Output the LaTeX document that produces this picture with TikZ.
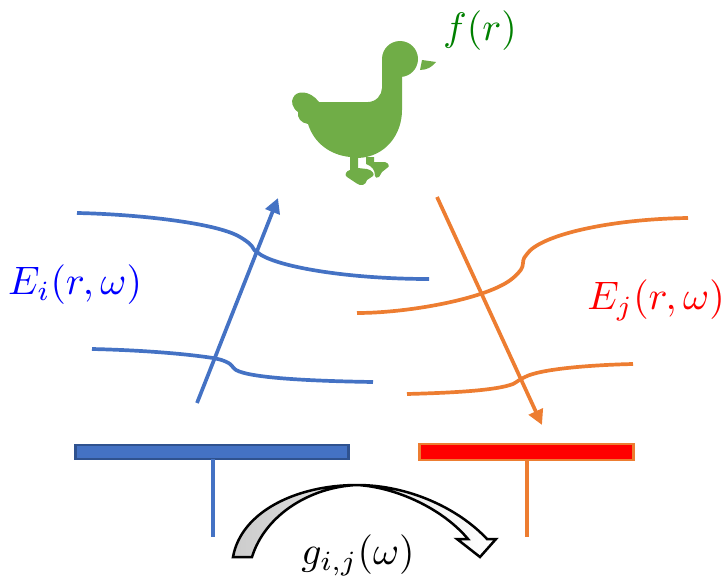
\documentclass[tikz,border=0pt]{standalone}
\usepackage{tikz}
\usetikzlibrary{positioning, arrows.meta}
\usepackage{xcolor}
\definecolor{fieldblue}{HTML}{4472C4}
\definecolor{fieldorange}{HTML}{ED7D31}
\definecolor{barblue}{HTML}{2F528F}
\definecolor{duckgreen}{HTML}{70AD47}
\definecolor{labelgreen}{HTML}{008000}

\begin{document}
\begin{tikzpicture}[
  x=1pt, y=-1pt,
  wave/.style={line width=3.7pt},
  ray/.style={line width=3.7pt, -{Triangle[length=15pt, width=15pt]}},
  stem/.style={line width=3.7pt},
  bar/.style={draw, line width=2.2pt, minimum height=14pt, inner sep=0pt, outer sep=0pt},
  lab/.style={scale=3.97, inner sep=0pt}
]
\useasboundingbox (0,0) rectangle (725,578);

% source
\fill[duckgreen] (400,41) arc[start angle=-90, end angle=90, radius=18] -- (402,77) -- (402,110)
  .. controls (402,135) and (385,157) .. (358,158) -- (358,168) -- (367,169)
  .. controls (372,170) and (375,174) .. (373,176) -- (367,180) .. controls (366,185) and (361,187) .. (356,183)
  -- (347,177) .. controls (344,175) and (346,171) .. (350,170) -- (350,157)
  .. controls (330,155) and (314,143) .. (308,124) .. controls (301,123) and (297,118) .. (298,112)
  .. controls (292,108) and (291,101) .. (293,98) .. controls (296,90) and (310,90) .. (319,102)
  -- (368,102) .. controls (376,102) and (382,95) .. (382,88) -- (382,59) arc[start angle=180, end angle=270, radius=18] -- cycle;
\fill[duckgreen] (366,157) -- (374,157) -- (374,162) -- (385,162) .. controls (389,163) and (390,167) .. (387,168)
  -- (382,172) -- (379,177) .. controls (377,178) and (375,178) .. (375,176) .. controls (375,170) and (372,166) .. (366,164) -- cycle;
\fill[duckgreen] (422,60) -- (436,62) .. controls (432,67) and (427,70) .. (420,70) -- cycle;
\node[lab, text=labelgreen] (source) at (480,31) {$f(r)$};

% fields
\coordinate (rayIstart) at (197,403);
\coordinate (rayIend) at (278,198);
\coordinate (rayJstart) at (437,197);
\coordinate (rayJend) at (542,425);
\draw[wave, fieldblue] (77,213) .. controls (130,214) and (215,222) .. (240,237)
  .. controls (250,243) and (252,246) .. (253,248) .. controls (254,250) and (255,251) .. (257,252)
  .. controls (272,266) and (345,279) .. (429,279);
\draw[wave, fieldblue] (92,349) .. controls (135,350) and (180,353) .. (213,358)
  .. controls (225,360) and (231,364) .. (232,366) .. controls (233,368) and (234,368) .. (236,370)
  .. controls (250,378) and (310,381) .. (373,382);
\draw[ray, fieldblue] (rayIstart) -- (rayIend);
\draw[wave, fieldorange] (357,313) .. controls (410,313) and (490,298) .. (513,278)
  .. controls (520,272) and (523,268) .. (523,263) .. controls (523,259) and (525,256) .. (527,254)
  .. controls (540,235) and (610,219) .. (688,218);
\draw[wave, fieldorange] (407,394) .. controls (445,393) and (495,391) .. (513,384)
  .. controls (517,382) and (520,379) .. (525,377) .. controls (540,369) and (590,365) .. (633,364);
\draw[ray, fieldorange] (rayJstart) -- (rayJend);
\node[lab, text=blue] (fieldI) at (75,285) {$E_i(r,\omega)$};
\node[lab, text=red] (fieldJ) at (656,300) {$E_j(r,\omega)$};

% antennas
\node[bar, fill=fieldblue, draw=barblue, minimum width=273pt] (barI) at (212,452) {};
\node[bar, fill=red, draw=fieldorange, minimum width=214pt, minimum height=16pt, right=71pt of barI.east, anchor=west] (barJ) {};
\coordinate (stemI) at (213,537);
\coordinate (stemJ) at (527,537);
\draw[stem, fieldblue] (barI.south -| stemI) -- (stemI);
\draw[stem, fieldorange] (barJ.south -| stemJ) -- (stemJ);

% transfer
\draw[black, line width=2.5pt, left color=gray!40, right color=white, line join=miter]
  (233,557) .. controls (241,512) and (296,485) .. (357,485)
  .. controls (408,485) and (458,508) .. (487,539) -- (496,539) -- (480,557) -- (457,539) -- (468,539)
  .. controls (442,508) and (395,487) .. (357,485)
  .. controls (310,487) and (265,515) .. (252,557) -- cycle;
\node[lab, text=black] (transfer) at (358,555) {$g_{i,j}(\omega)$};
\end{tikzpicture}
\end{document}
